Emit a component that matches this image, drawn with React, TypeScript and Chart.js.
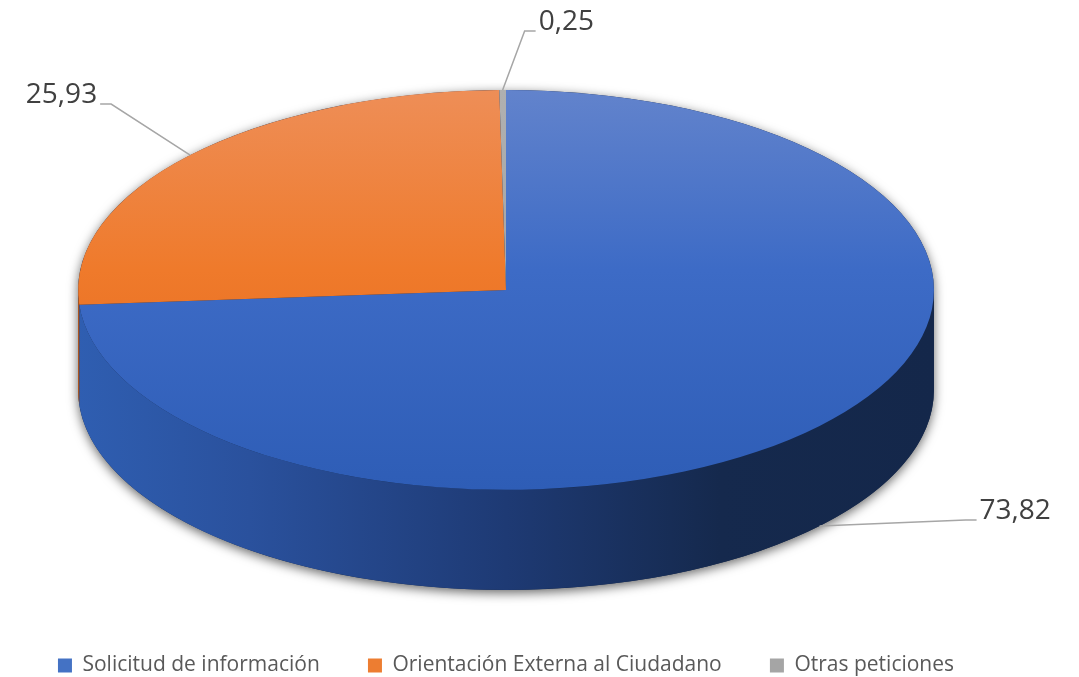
import React, { useEffect, useRef } from "react";
import { Chart, registerables } from "chart.js";

Chart.register(...registerables);

// ---- data ----
const categories = [
  "Solicitud de información",
  "Orientación Externa al Ciudadano",
  "Otras peticiones",
];
const values = [73.82, 25.93, 0.25];
const valueLabels = ["73,82", "25,93", "0,25"];

// ---- styles ----
const legendColors = ["#4472C4", "#ED7D31", "#A5A5A5"];
const topStops: [number, string][][] = [
  [[0, "#6283CC"], [0.45, "#3D6BC6"], [1, "#2E5DB6"]],
  [[0, "#EE8E57"], [0.45, "#EF7A2B"], [1, "#E1641A"]],
  [[0, "#B0B0B0"], [1, "#9A9A9A"]],
];
const sideStops: [number, string][][] = [
  [[0, "#2F5EB1"], [0.2, "#2A519D"], [0.5, "#1E3A74"], [0.75, "#15294D"], [1, "#14274A"]],
  [[0, "#B5561A"], [1, "#8A3F10"]],
  [[0, "#7A7A7A"], [1, "#6A6A6A"]],
];
const X_SCALE = 1.403; // horizontal radius relative to Chart.js radius
const TILT = 0.467; // ry / rx
const DEPTH = 0.234; // depth / rx
const FONT = "'Open Sans', 'Noto Sans', sans-serif";
const GAP = "\u00A0\u00A0\u00A0\u00A0\u00A0\u00A0\u00A0";

// leader line geometry relative to each slice anchor: elbow dx, dy, direction
const leaders = [
  { dx: 146, dy: -6, dir: 1 },
  { dx: -79, dy: -51, dir: -1 },
  { dx: 22, dy: -59, dir: 1 },
];

function geom(chart: any) {
  const meta = chart.getDatasetMeta(0);
  const a0 = meta.data[0];
  const r = a0.outerRadius;
  const rx = r * X_SCALE;
  const ry = rx * TILT;
  const depth = rx * DEPTH;
  const cx = a0.x;
  const cy = a0.y - depth / 2;
  return { meta, r, rx, ry, depth, cx, cy, ox: a0.x, oy: a0.y };
}

const pie3d = {
  id: "pie3d",
  beforeDatasetsDraw(chart: any) {
    const ctx = chart.ctx as CanvasRenderingContext2D;
    const { meta, rx, ry, depth, cx, cy, r, ox, oy } = geom(chart);
    // silhouette shadow
    ctx.save();
    ctx.beginPath();
    ctx.ellipse(cx, cy, rx, ry, 0, Math.PI, 2 * Math.PI);
    ctx.ellipse(cx, cy + depth, rx, ry, 0, 0, Math.PI);
    ctx.closePath();
    ctx.shadowColor = "rgba(0,0,0,0.6)";
    ctx.shadowBlur = 11;
    ctx.shadowOffsetX = 0;
    ctx.shadowOffsetY = 3;
    ctx.fillStyle = "#14274A";
    ctx.fill();
    ctx.restore();
    // sides of front-facing slices
    meta.data.forEach((arc: any, i: number) => {
      let s = arc.startAngle % (2 * Math.PI);
      if (s < -Math.PI / 2) s += 2 * Math.PI;
      const e = s + (arc.endAngle - arc.startAngle);
      const lo = Math.max(s, 0);
      const hi = Math.min(e, Math.PI);
      if (hi <= lo) return;
      const g = ctx.createLinearGradient(cx - rx, 0, cx + rx, 0);
      sideStops[i].forEach(([p, c]) => g.addColorStop(p, c));
      ctx.save();
      ctx.beginPath();
      ctx.ellipse(cx, cy, rx, ry, 0, lo, hi);
      ctx.ellipse(cx, cy + depth, rx, ry, 0, hi, lo, true);
      ctx.closePath();
      ctx.fillStyle = g;
      ctx.fill();
      ctx.restore();
    });
    // project the flat pie onto the tilted top face
    ctx.save();
    ctx.translate(cx, cy);
    ctx.scale(rx / r, ry / r);
    ctx.translate(-ox, -oy);
  },
  afterDatasetsDraw(chart: any) {
    const ctx = chart.ctx as CanvasRenderingContext2D;
    ctx.restore();
    const { meta, rx, ry, depth, cx, cy } = geom(chart);
    ctx.save();
    ctx.font = `28px ${FONT}`;
    ctx.fillStyle = "#404040";
    ctx.strokeStyle = "#A6A6A6";
    ctx.lineWidth = 1.5;
    ctx.textBaseline = "middle";
    meta.data.forEach((arc: any, i: number) => {
      const mid = (arc.startAngle + arc.endAngle) / 2;
      const front = Math.sin(mid) > 0;
      const ax = cx + rx * Math.cos(mid);
      const ay = cy + ry * Math.sin(mid) + (front ? depth : 0);
      const L = leaders[i];
      const ex = ax + L.dx;
      const ey = ay + L.dy;
      const hx = ex + 11 * L.dir;
      ctx.beginPath();
      ctx.moveTo(ax, ay);
      ctx.lineTo(ex, ey);
      ctx.lineTo(hx, ey);
      ctx.stroke();
      ctx.textAlign = L.dir > 0 ? "left" : "right";
      ctx.fillText(valueLabels[i], hx + 3 * L.dir, ey - 9);
    });
    ctx.restore();
  },
};

export default function App() {
  const ref = useRef<HTMLCanvasElement | null>(null);
  useEffect(() => {
    document.body.style.margin = "0";
    const canvas = ref.current!;
    const chart = new Chart(canvas, {
      type: "pie",
      data: {
        labels: categories,
        datasets: [
          {
            data: values,
            borderWidth: 0,
            hoverOffset: 0,
            clip: false as any,
            backgroundColor: (c: any) => {
              const chart = c.chart;
              const area = chart.chartArea;
              const i = c.dataIndex ?? 0;
              if (!area) return legendColors[i];
              const g = chart.ctx.createLinearGradient(0, area.top, 0, area.bottom);
              topStops[i].forEach(([p, col]) => g.addColorStop(p, col));
              return g;
            },
          },
        ],
      },
      options: {
        responsive: false,
        animation: false,
        events: [],
        layout: { padding: { top: 35, right: 67, left: 0, bottom: 0 } },
        plugins: {
          tooltip: { enabled: false },
          legend: {
            position: "bottom",
            maxHeight: 32,
            labels: {
              boxWidth: 14,
              boxHeight: 14,
              padding: 10,
              color: "#595959",
              font: { family: FONT, size: 21 },
              generateLabels: () =>
                categories.map((t, i) => ({
                  text: i < categories.length - 1 ? t + GAP : t,
                  fillStyle: legendColors[i],
                  strokeStyle: legendColors[i],
                  lineWidth: 0,
                  hidden: false,
                  index: i,
                  datasetIndex: 0,
                  fontColor: "#595959",
                })),
            },
          },
        },
      },
      plugins: [pie3d],
    });
    return () => chart.destroy();
  }, []);
  return (
    <div style={{ width: 1079, height: 677, background: "#fff" }}>
      <canvas ref={ref} width={1079} height={677} style={{ display: "block" }} />
    </div>
  );
}
